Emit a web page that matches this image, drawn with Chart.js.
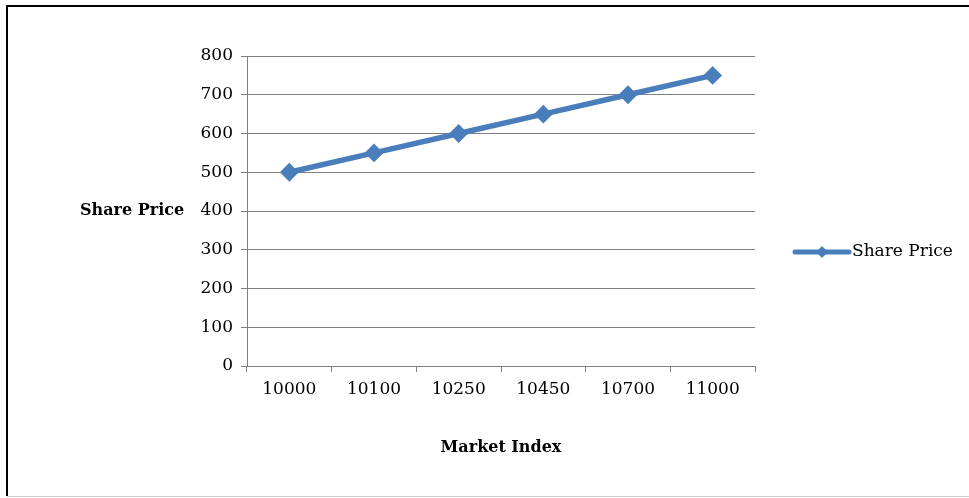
<!DOCTYPE html>
<html>
<head>
<meta charset="utf-8">
<script src="https://cdn.jsdelivr.net/npm/chart.js@4/dist/chart.umd.min.js"></script>
<style>
  html, body { margin: 0; padding: 0; background: #fff; }
  #wrap { position: relative; width: 969px; height: 498px; }
</style>
</head>
<body>
<div id="wrap"><canvas id="c" width="969" height="498"></canvas></div>
<script>
// Share price against market index
const marketIndex = ['10000', '10100', '10250', '10450', '10700', '11000'];
const sharePrice = [500, 550, 600, 650, 700, 750];
const priceTicks = [0, 100, 200, 300, 400, 500, 600, 700, 800];
const seriesName = 'Share Price';
const xTitle = 'Market Index';
const yTitle = 'Share Price';

const SERIF = '"DejaVu Serif", serif';
const BLUE = '#4a7ebb';
const GRID = '#808080';

// Frame, axis titles and the legend entry
const decor = {
  id: 'decor',
  beforeDraw(chart) {
    const ctx = chart.ctx;
    ctx.save();
    ctx.fillStyle = '#fff';
    ctx.fillRect(0, 0, chart.width, chart.height);
    ctx.restore();
  },
  afterDraw(chart) {
    const ctx = chart.ctx;
    const a = chart.chartArea;
    ctx.save();
    // outer frame
    ctx.strokeStyle = '#000';
    ctx.lineWidth = 2;
    ctx.beginPath();
    ctx.moveTo(7, chart.height - 2);
    ctx.lineTo(7, 6);
    ctx.lineTo(chart.width, 6);
    ctx.stroke();
    ctx.strokeStyle = '#d0d0d0';
    ctx.lineWidth = 1;
    ctx.beginPath();
    ctx.moveTo(7, 496.5);
    ctx.lineTo(chart.width, 496.5);
    ctx.stroke();

    // axis titles
    ctx.fillStyle = '#000';
    ctx.font = 'bold 16px ' + SERIF;
    ctx.textBaseline = 'middle';
    ctx.textAlign = 'left';
    ctx.fillText(yTitle, 80, (a.top + a.bottom) / 2);
    ctx.textAlign = 'center';
    ctx.fillText(xTitle, (a.left + a.right) / 2, 448);

    // legend entry
    const ly = 252, lx0 = 795, lx1 = 849;
    ctx.strokeStyle = BLUE;
    ctx.lineWidth = 5;
    ctx.lineCap = 'round';
    ctx.beginPath();
    ctx.moveTo(lx0, ly);
    ctx.lineTo(lx1, ly);
    ctx.stroke();
    const mx = (lx0 + lx1) / 2, r = 6;
    ctx.fillStyle = BLUE;
    ctx.beginPath();
    ctx.moveTo(mx - r, ly);
    ctx.lineTo(mx, ly - r);
    ctx.lineTo(mx + r, ly);
    ctx.lineTo(mx, ly + r);
    ctx.closePath();
    ctx.fill();
    ctx.fillStyle = '#000';
    ctx.font = '17px ' + SERIF;
    ctx.textAlign = 'left';
    ctx.fillText(seriesName, 852, ly);
    ctx.restore();
  }
};

new Chart(document.getElementById('c'), {
  type: 'line',
  data: {
    labels: marketIndex,
    datasets: [{
      label: seriesName,
      data: sharePrice,
      borderColor: BLUE,
      backgroundColor: BLUE,
      borderWidth: 5.5,
      pointStyle: 'rectRot',
      pointRadius: 8,
      pointBorderWidth: 2,
      pointBorderColor: BLUE,
      pointBackgroundColor: BLUE,
      pointHoverRadius: 8,
      tension: 0,
      fill: false
    }]
  },
  options: {
    responsive: false,
    animation: false,
    devicePixelRatio: 1,
    layout: { padding: { left: 0, top: 56, right: 214, bottom: 0 } },
    plugins: { legend: { display: false }, tooltip: { enabled: false } },
    scales: {
      x: {
        offset: true,
        afterFit(s) { s.height = 132; },
        grid: {
          offset: true,
          drawOnChartArea: false,
          drawTicks: true,
          tickLength: 6,
          color: GRID,
          lineWidth: 1
        },
        border: { display: true, color: GRID, width: 1 },
        ticks: {
          color: '#000',
          font: { family: SERIF, size: 17 },
          padding: 7,
          maxRotation: 0,
          autoSkip: false
        }
      },
      y: {
        min: 0,
        max: 800,
        afterFit(s) { s.width = 247; },
        afterBuildTicks(s) { s.ticks = priceTicks.map(v => ({ value: v })); },
        grid: {
          color: GRID,
          lineWidth: 1,
          drawTicks: true,
          tickLength: 6
        },
        border: { display: true, color: GRID, width: 1 },
        ticks: {
          color: '#000',
          font: { family: SERIF, size: 17 },
          padding: 8
        }
      }
    }
  },
  plugins: [decor]
});
</script>
</body>
</html>
